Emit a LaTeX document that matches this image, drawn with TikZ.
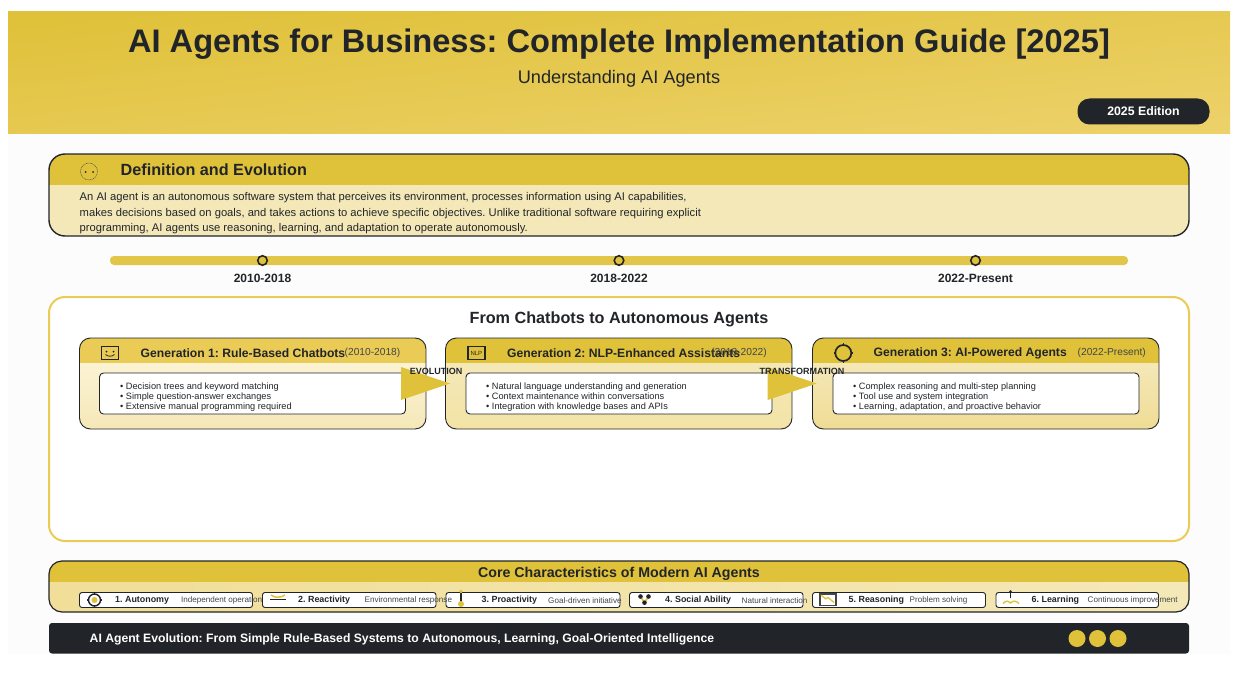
\documentclass[tikz,border=0pt]{standalone}
\usepackage{fontspec}
\setmainfont{Liberation Sans}
\usetikzlibrary{calc}
\definecolor{gold}{HTML}{E0C13A}
\definecolor{goldl}{HTML}{EACB55}
\definecolor{ink}{HTML}{212529}
\definecolor{pale}{HTML}{F5E8B8}
\definecolor{palea}{HTML}{FBF3D4}
\definecolor{paleb}{HTML}{F3E3A6}
\definecolor{palec}{HTML}{EFDC94}
\newcommand{\fs}[1]{\fontsize{#1}{#1}\selectfont}
\tikzset{
  x=1pt,y=-1pt,
  txt/.style={inner sep=0pt,text=ink},
  gentitle/.style={txt,font=\fs{12.15}\bfseries,anchor=west},
  genyear/.style={txt,font=\fs{10.2},anchor=west,text=ink!85},
  bul/.style={txt,font=\fs{9.2},anchor=base west,align=left},
  inner/.style={draw=ink,line width=.9pt,fill=white,rounded corners=4pt},
  chip/.style={draw=ink,line width=.9pt,fill=white,rounded corners=2.5pt},
  chipt/.style={txt,font=\fs{8.9}\bfseries,anchor=west},
  chipd/.style={txt,font=\fs{8.1},anchor=west,text=ink!85},
  tri/.style={fill=gold,draw=none},
  dot/.style={circle,fill=gold,minimum size=17pt,inner sep=0pt},
  tick/.style={circle,draw=ink,fill=gold,line width=1.6pt,minimum size=9.5pt,inner sep=0pt},
  yr/.style={txt,font=\fs{12}\bfseries},
  defl/.style={txt,font=\fs{11.2},anchor=base west},
}
\begin{document}
\frenchspacing
\begin{tikzpicture}
\useasboundingbox (0,0) rectangle (1242,690);
\fill[white] (0,0) rectangle (1242,690);
\fill[black!1] (8,134) rectangle (1230,654);
% header
\path[top color=gold,bottom color=goldl!80!pale,shading angle=6] (8,12) rectangle (1230,134);
\node[txt,font=\fs{32.6}\bfseries] (title) at (619,44) {AI Agents for Business: Complete Implementation Guide [2025]};
\node[txt,font=\fs{18.2}] (sub) at (619,79) {Understanding AI Agents};
\node[fill=ink,rounded corners=12pt,minimum width=132pt,minimum height=26pt,inner sep=0pt,text=white,font=\fs{12.3}\bfseries] (edition) at (1143.5,111.5) {2025 Edition};
% definition
\begin{scope}
\path[clip,rounded corners=16pt] (49,154) rectangle (1189,236);
\fill[pale] (49,154) rectangle (1189,236);
\fill[gold] (49,154) rectangle (1189,185);
\end{scope}
\draw[ink,line width=1.4pt,rounded corners=16pt] (49,154) rectangle (1189,236);
\node[txt,font=\fs{16.2}\bfseries,anchor=west] (deft) at (120.5,170) {Definition and Evolution};
\draw[ink!80,line width=.5pt,dash pattern=on 1pt off .7pt] (89,171.5) circle (8.5pt);
\fill[ink] (85.5,172) circle (1pt) (93,172) circle (1pt);
\node[defl] (d1) at (79.5,200.5) {An AI agent is an autonomous software system that perceives its environment, processes information using AI capabilities,};
\node[defl] (d2) at (79.5,216) {makes decisions based on goals, and takes actions to achieve specific objectives. Unlike traditional software requiring explicit};
\node[defl] (d3) at (79.5,231.5) {programming, AI agents use reasoning, learning, and adaptation to operate autonomously.};
% timeline
\fill[gold!92!white,rounded corners=4pt] (110,256) rectangle (1128,265);
\node[tick] (t1) at (262.5,260.5) {};
\node[tick] (t2) at (619,260.5) {};
\node[tick] (t3) at (975.5,260.5) {};
\node[yr] at (262.5,278) {2010-2018};
\node[yr] at (619,278) {2018-2022};
\node[yr] at (975.5,278) {2022-Present};
% main panel
\draw[goldl,line width=2pt,fill=white,rounded corners=16pt] (49,297) rectangle (1189,541);
\node[txt,font=\fs{16.2}\bfseries] (mt) at (619,319) {From Chatbots to Autonomous Agents};
% gen cards
\newcommand{\gencard}[5]{%
\begin{scope}
\path[clip,rounded corners=11pt] (#1,338) rectangle ++(#2,91);
\path[top color=#3,bottom color=#4] (#1,363) rectangle ++(#2,66);
\fill[#5] (#1,338) rectangle ++(#2,25);
\end{scope}
\draw[ink,line width=.9pt,rounded corners=11pt] (#1,338) rectangle ++(#2,91);
}
\gencard{79.5}{346.5}{palea}{pale}{goldl}
\gencard{445.5}{346.5}{pale}{paleb}{gold}
\gencard{812.5}{346.5}{pale}{palec}{gold}
% inner
\node[inner,minimum width=306pt,minimum height=41pt,inner sep=0pt] (g1) at (252.5,393.5) {};
\node[inner,minimum width=306pt,minimum height=41pt,inner sep=0pt] (g2) at (619,393.5) {};
\node[inner,minimum width=306pt,minimum height=41pt,inner sep=0pt] (g3) at (986,393.5) {};
\node[gentitle] at (140.5,353) {Generation 1: Rule-Based Chatbots};
\node[genyear] at (344.5,353) {(2010-2018)};
\node[gentitle] at (507,353) {Generation 2: NLP-Enhanced Assistants};
\node[genyear] at (711,353) {(2018-2022)};
\node[gentitle] at (873.5,353) {Generation 3: AI-Powered Agents};
\node[genyear] at (1077.5,353) {(2022-Present)};
\node[bul] at (120,389) {• Decision trees and keyword matching};
\node[bul] at (120,399) {• Simple question-answer exchanges};
\node[bul] at (120,409) {• Extensive manual programming required};
\node[bul] at (486,389) {• Natural language understanding and generation};
\node[bul] at (486,399) {• Context maintenance within conversations};
\node[bul] at (486,409) {• Integration with knowledge bases and APIs};
\node[bul] at (853,389) {• Complex reasoning and multi-step planning};
\node[bul] at (853,399) {• Tool use and system integration};
\node[bul] at (853,409) {• Learning, adaptation, and proactive behavior};
% gen icons
\draw[ink,line width=1.4pt] (101.5,346.5) rectangle (118.5,359.5);
\fill[ink] (106.5,351.5) circle (1pt) (113.5,351.5) circle (1pt);
\draw[ink,line width=.8pt] (105.5,354.5) .. controls (108,356.8) and (112,356.8) .. (114.5,354.5);
\draw[ink,line width=1.5pt] (467.8,346.7) rectangle (485,359.5);
\node[txt,font=\fs{6}] at (476.4,353.3) {NLP};
\draw[ink,line width=1.7pt] (843.3,353) circle (8pt);
\foreach \a in {0,90,180,270} \draw[ink,line width=1.4pt] (843.3,353) ++(\a:8pt) -- ++(\a:1.8pt);
% arrows
\coordinate (a1b) at (401,367);
\coordinate (a1c) at (401,400);
\coordinate (a1t) at (450,383.5);
\coordinate (a2b) at (767.7,367);
\coordinate (a2c) at (767.7,400);
\coordinate (a2t) at (816.7,383.5);
\path[tri] (a1b) -- (a1t) -- (a1c) -- cycle;
\path[tri] (a2b) -- (a2t) -- (a2c) -- cycle;
\node[txt,font=\fs{9}\bfseries] at (436,371) {EVOLUTION};
\node[txt,font=\fs{9}\bfseries] at (802,371) {TRANSFORMATION};
% core
\begin{scope}
\path[clip,rounded corners=13pt] (49,561) rectangle (1189,612);
\path[left color=pale!75!gold,right color=pale] (49,582) rectangle (1189,612);
\fill[gold] (49,561) rectangle (1189,582);
\end{scope}
\draw[ink,line width=1.2pt,rounded corners=13pt] (49,561) rectangle (1189,612);
\node[txt,font=\fs{14.2}\bfseries] (ct) at (619,573.5) {Core Characteristics of Modern AI Agents};
\foreach \x/\w in {79.5/173,262.5/173.5,446/174,629.5/173.5,812.5/173,996/162.5}
  \draw[chip] (\x,592.5) rectangle ++(\w,15);
\node[chipt] at (115,600.5) {1. Autonomy};
\node[chipd] at (181,600.8) {Independent operation};
\node[chipt] at (298,600.5) {2. Reactivity};
\node[chipd] at (364.5,600.8) {Environmental response};
\node[chipt] at (481.5,600.5) {3. Proactivity};
\node[chipd] at (548,600.8) {Goal-driven initiative};
\node[chipt] at (665,600.5) {4. Social Ability};
\node[chipd] at (741.5,600.8) {Natural interaction};
\node[chipt] at (848.5,600.5) {5. Reasoning};
\node[chipd] at (909.5,600.8) {Problem solving};
\node[chipt] at (1031.5,600.5) {6. Learning};
\node[chipd] at (1087.5,600.8) {Continuous improvement};
% chip icons
\fill[gold] (94.5,600) circle (3pt);
\draw[ink,line width=1.4pt] (94.5,600) circle (6pt);
\foreach \a in {0,90,180,270} \draw[ink,line width=1.2pt] (94.5,600) ++(\a:6pt) -- ++(\a:1.3pt);
\draw[gold,line width=1.5pt] (271,595) .. controls (274,598) and (281,598) .. (285,595);
\draw[ink,line width=1.5pt] (270,599.7) -- (286,599.7);
\draw[ink,line width=1.5pt] (461,592) -- (461,604);
\fill[gold] (461,591.5) circle (1.9pt);
\fill[gold] (461,604) circle (3pt);
\draw[gold,line width=1.6pt] (640.5,596.5) -- (644.5,602.5) -- (648.5,596.5);
\fill[ink] (640.5,596.5) circle (2.3pt) (648.5,596.5) circle (2.3pt) (644.5,602.7) circle (2.3pt);
\draw[ink!85,line width=1.7pt] (819.8,594) rectangle (835.8,605.5);
\draw[gold,line width=1.3pt] (821,595) -- (825.5,598.8) -- (828,597.5) -- (834,602.5);
\draw[ink,line width=1.2pt] (1010.5,592) -- (1010.5,598);
\fill[ink] (1010.5,591.5) circle (1.4pt);
\draw[gold,line width=1.4pt] (1003,603.5) .. controls (1006,600.5) and (1008,600.5) .. (1010.5,603) .. controls (1013,600.5) and (1016,600.5) .. (1019,603.5);
% footer
\fill[ink,rounded corners=3pt] (49,623) rectangle (1189,653.5);
\node[txt,text=white,font=\fs{12.19}\bfseries,anchor=west] (ft) at (89.5,639.5) {AI Agent Evolution: From Simple Rule-Based Systems to Autonomous, Learning, Goal-Oriented Intelligence};
\node[dot] at (1077,638.5) {};
\node[dot] at (1097.5,638.5) {};
\node[dot] at (1118,638.5) {};
\end{tikzpicture}
\end{document}
